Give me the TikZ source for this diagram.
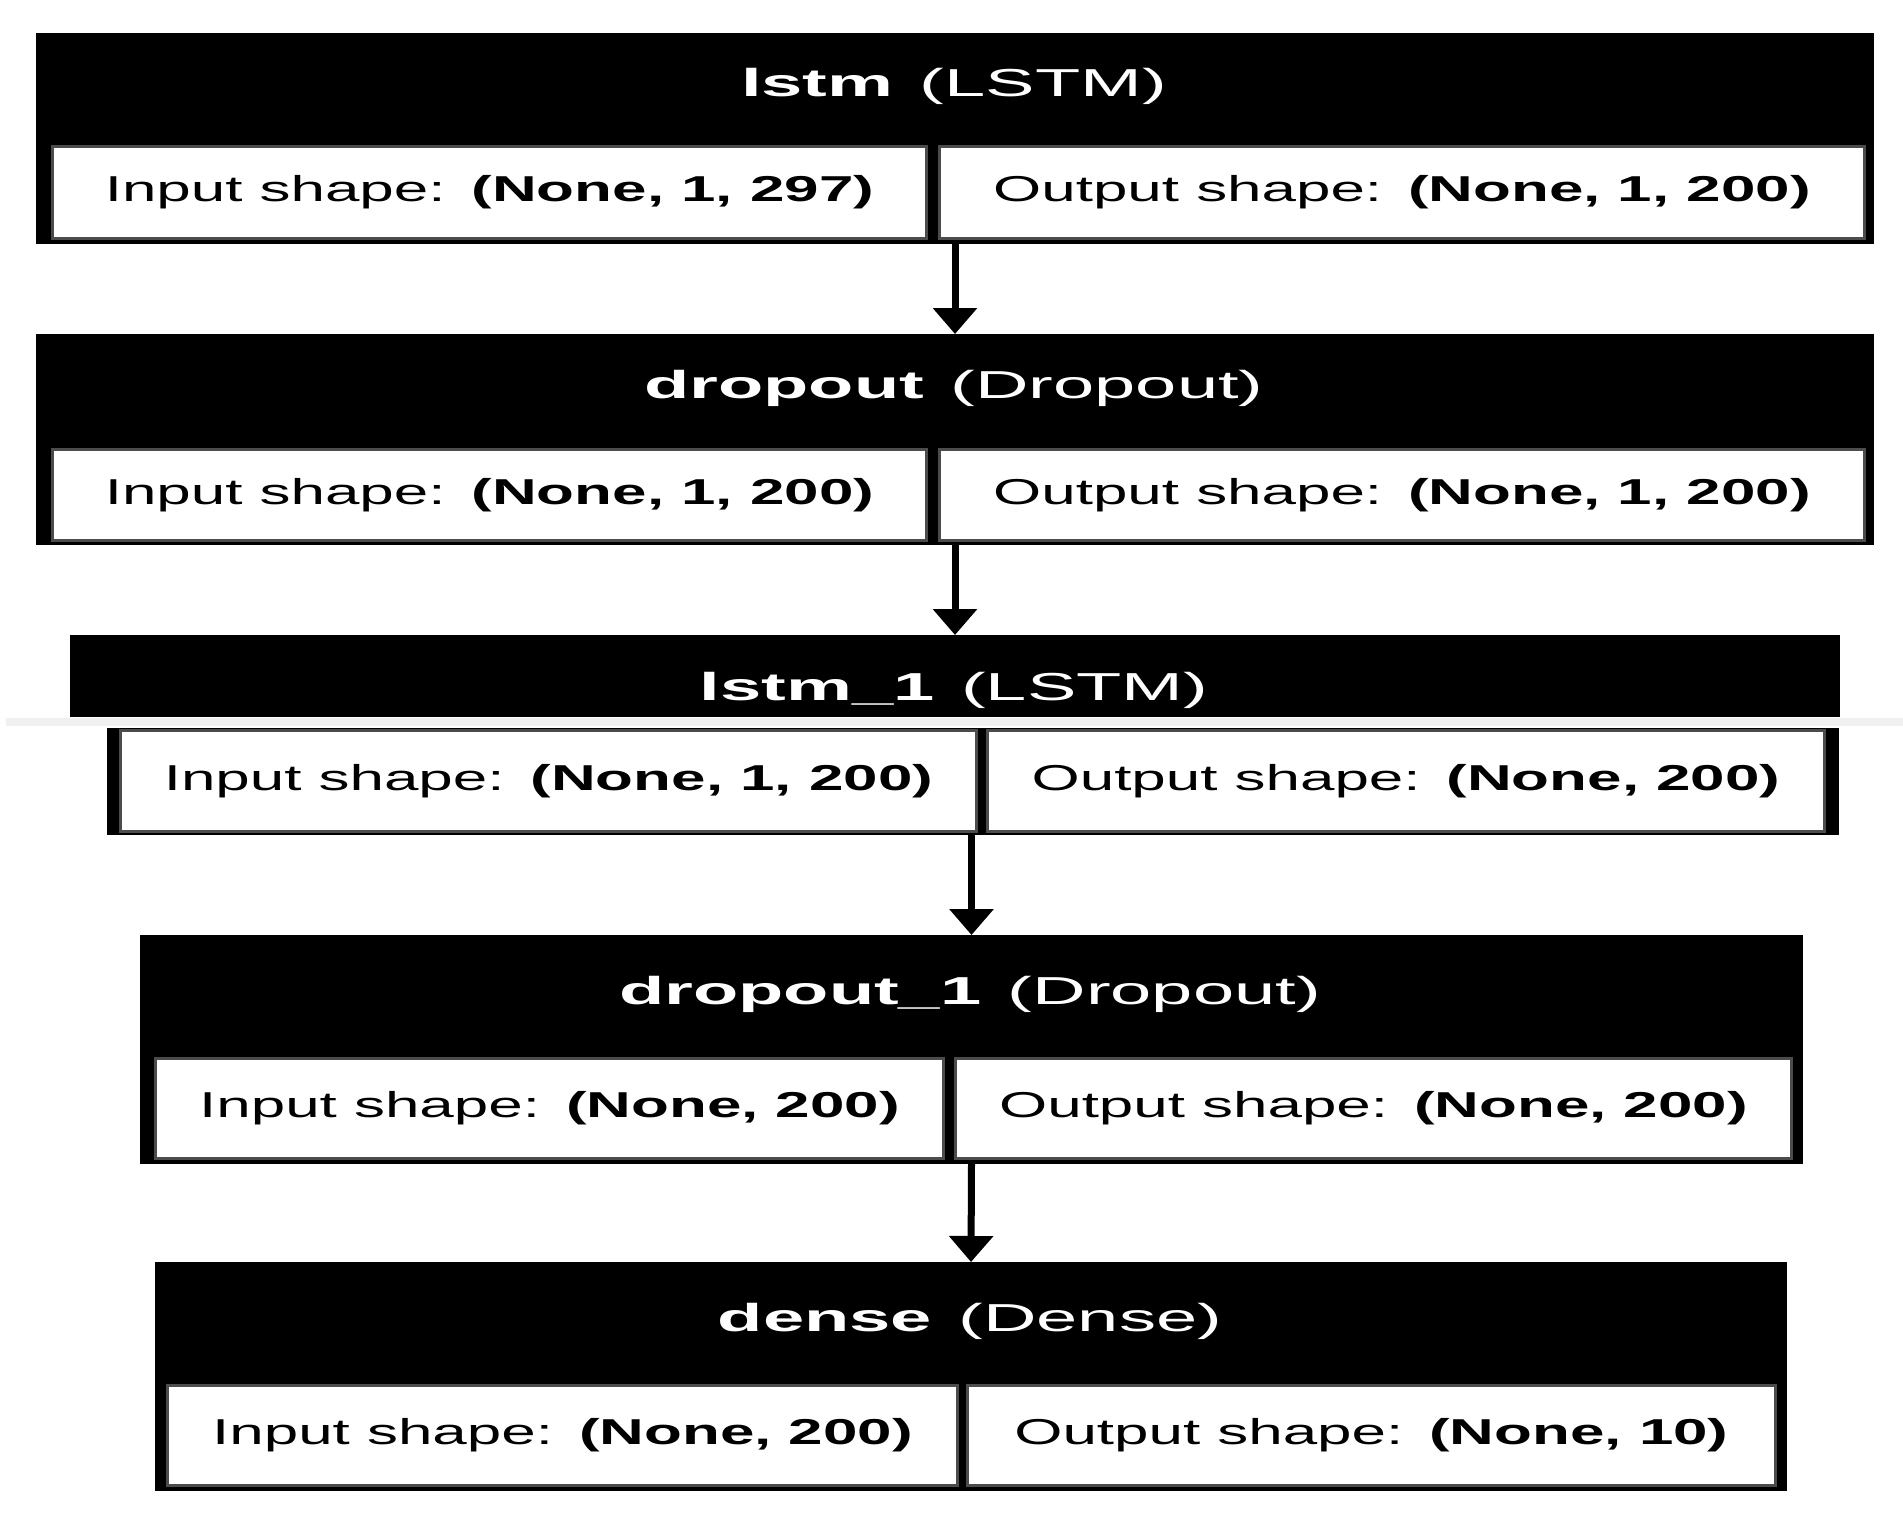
\documentclass[tikz,border=0pt]{standalone}
\usepackage{fontspec}
\usetikzlibrary{arrows.meta}
\newfontfamily\cellfont[FakeStretch=1.72]{Liberation Sans}
\newfontfamily\titlefont[FakeStretch=1.9]{Liberation Sans}
\tikzstyle{layerbox} = [rectangle, draw=black, fill=black, line width=2pt, anchor=north west, inner sep=0pt]
\tikzstyle{arrow} = [line width=7pt, -{Triangle[width=43pt,length=26pt]}]

\begin{document}
\begin{tikzpicture}[x=1pt, y=-1pt,
		cellbox/.style={
			rectangle,
			draw=black!70,
			fill=white,
			line width=3pt,
			anchor=north west,
			inner sep=0pt,
			font=\cellfont\fontsize{36}{40}\selectfont},
		titletext/.style={anchor=base, text=white, font=\titlefont\fontsize{39}{44}\selectfont}]
		\useasboundingbox (0,0) rectangle (1903,1523);

		\node (lstm) [layerbox, minimum width=1836pt, minimum height=209pt] at (36,33) {};
		\node (lstmname) [titletext] at (954,96) {\textbf{lstm}\ \hspace{6pt}(LSTM)};
		\node (lstmin) [cellbox, minimum width=874pt, minimum height=92pt] at (51,145) {Input shape:\hspace{3pt} \textbf{(None, 1, 297)}};
		\node (lstmout) [cellbox, minimum width=925pt, minimum height=92pt] at (938,145) {Output shape:\hspace{3pt} \textbf{(None, 1, 200)}};

		\node (dropout) [layerbox, minimum width=1836pt, minimum height=209pt] at (36,334) {};
		\node (dropoutname) [titletext] at (954,398) {\textbf{dropout}\ \hspace{6pt}(Dropout)};
		\node (dropoutin) [cellbox, minimum width=874pt, minimum height=91pt] at (51,448) {Input shape:\hspace{3pt} \textbf{(None, 1, 200)}};
		\node (dropoutout) [cellbox, minimum width=925pt, minimum height=91pt] at (938,448) {Output shape:\hspace{3pt} \textbf{(None, 1, 200)}};

		\draw[black!6, line width=8pt] (6,722) -- (1903,722);
		\node (lstmone) [layerbox, minimum width=1768pt, minimum height=80pt] at (70,635) {};
		\node (lstmonename) [titletext] at (954,700) {\textbf{lstm\_1}\ \hspace{6pt}(LSTM)};
		\node (lstmonebox) [layerbox, minimum width=1730pt, minimum height=105pt] at (107,728) {};
		\node (lstmonein) [cellbox, minimum width=856pt, minimum height=101pt] at (119,729) {Input shape:\hspace{3pt} \textbf{(None, 1, 200)}};
		\node (lstmoneout) [cellbox, minimum width=837pt, minimum height=101pt] at (986,729) {Output shape:\hspace{3pt} \textbf{(None, 200)}};

		\node (dropoutone) [layerbox, minimum width=1661pt, minimum height=227pt] at (140,935) {};
		\node (dropoutonename) [titletext] at (970,1004) {\textbf{dropout\_1}\ \hspace{6pt}(Dropout)};
		\node (dropoutonein) [cellbox, minimum width=788pt, minimum height=100pt] at (154,1057) {Input shape:\hspace{3pt} \textbf{(None, 200)}};
		\node (dropoutoneout) [cellbox, minimum width=836pt, minimum height=100pt] at (954,1057) {Output shape:\hspace{3pt} \textbf{(None, 200)}};

		\node (dense) [layerbox, minimum width=1630pt, minimum height=227pt] at (155,1262) {};
		\node (densename) [titletext] at (970,1331) {\textbf{dense}\ \hspace{6pt}(Dense)};
		\node (densein) [cellbox, minimum width=790pt, minimum height=100pt] at (166,1384) {Input shape:\hspace{3pt} \textbf{(None, 200)}};
		\node (denseout) [cellbox, minimum width=808pt, minimum height=100pt] at (966,1384) {Output shape:\hspace{3pt} \textbf{(None, 10)}};

		\draw[arrow] (lstm.south) -- (dropout.north);
		\draw[arrow] (dropout.south) -- (lstmone.north);
		\draw[arrow] (lstmonebox.south -| dropoutone.north) -- (dropoutone.north);
		\draw[arrow] (dropoutone.south) -- (dense.north);
	\end{tikzpicture}
\end{document}
